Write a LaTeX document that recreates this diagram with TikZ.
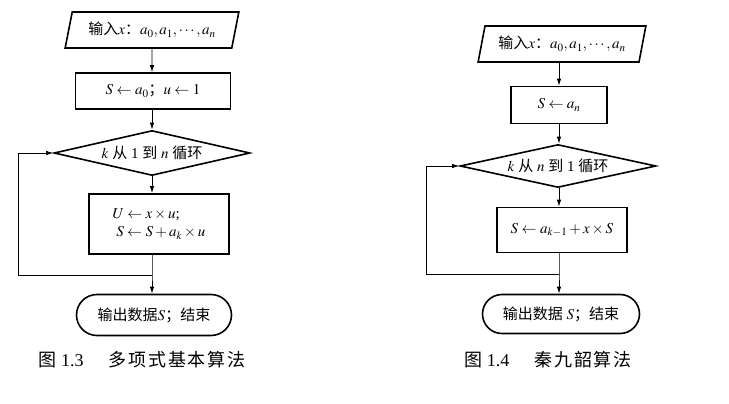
\documentclass[tikz,border=0pt]{standalone}
\usepackage{mathptmx}
\usepackage{fontspec}
\setmainfont{Liberation Serif}
\newfontfamily\cjk{Noto Sans CJK SC}
\newfontfamily\cjkcap{Noto Sans CJK SC}[LetterSpace=10]
\usetikzlibrary{shapes.geometric,shapes.misc,arrows.meta}
\tikzset{
  box/.style={draw,line width=1.6pt,inner sep=0pt},
  io/.style={box,trapezium,trapezium left angle=70,trapezium right angle=110,trapezium stretches=true,minimum height=36pt},
  loopbox/.style={box,diamond,aspect=4.4,minimum width=196pt},
  term/.style={box,rounded rectangle},
  flow/.style={->,line width=0.9pt},
  caption/.style={font=\fontsize{18}{20}\selectfont}
}
\begin{document}
\begin{tikzpicture}[x=1pt,y=-1pt,>={Latex[length=7pt,width=4.5pt]},font=\fontsize{15}{18}\selectfont]
  \useasboundingbox (0,0) rectangle (729,404);
  % 图 1.3
  \node[io,minimum width=174pt] (in1) at (152,30) {{\cjk 输入}$x${\cjk ：}$a_0, a_1,\cdots, a_n$};
  \node[box,minimum width=155pt,minimum height=36pt] (init1) at (153,91) {$S\leftarrow a_0${\cjk ；}$u\leftarrow 1$};
  \node[loopbox,minimum height=45pt] (loop1) at (152,153) {$k$ {\cjk 从} 1 {\cjk 到} $n$ {\cjk 循环}};
  \node[box,minimum width=140pt,minimum height=60pt,align=left] (body1) at (159,224) {$U\leftarrow x\times u$;\\ \ $S\leftarrow S+a_k\times u$};
  \node[term,minimum width=155pt,minimum height=41pt] (out1) at (154,315) {{\cjk 输出数据}$S${\cjk ；结束}};
  \coordinate (join1) at (152,275);
  \coordinate (back1) at (18,275);
  \draw[flow] (in1) -- (in1 |- init1.north);
  \draw[flow] (init1.south -| loop1) -- (loop1);
  \draw[flow] (loop1) -- (loop1 |- body1.north);
  \draw[flow] (join1 |- body1.south) -- (join1) -- (join1 |- out1.north);
  \draw[flow] (join1) -- (back1) |- (loop1.west);
  \node[caption] (cap1) at (142,360) {{\cjkcap 图} 1.3\hspace{1.4em}{\cjkcap 多项式基本算法}};
  % 图 1.4
  \node[io,minimum width=168pt] (in2) at (562,44) {{\cjk 输入}$x${\cjk ：}$a_0, a_1,\cdots, a_n$};
  \node[box,minimum width=96pt,minimum height=37pt] (init2) at (559,105) {$S\leftarrow a_n$};
  \node[loopbox,minimum height=43pt] (loop2) at (558,166) {$k$ {\cjk 从} $n$ {\cjk 到} 1 {\cjk 循环}};
  \node[box,minimum width=130pt,minimum height=45pt] (body2) at (562,230) {$S\leftarrow a_{k-1}+x\times S$};
  \node[term,minimum width=157pt,minimum height=39pt] (out2) at (561,314) {{\cjk 输出数据} $S${\cjk ；结束}};
  \coordinate (join2) at (559,274);
  \coordinate (back2) at (426,274);
  \draw[flow] (join2 |- in2.south) -- (join2 |- init2.north);
  \draw[flow] (join2 |- init2.south) -- (join2 |- loop2.north);
  \draw[flow] (join2 |- loop2.south) -- (join2 |- body2.north);
  \draw[flow] (join2 |- body2.south) -- (join2) -- (join2 |- out2.north);
  \draw[flow] (join2) -- (back2) |- (loop2.west);
  \node[caption] (cap2) at (548,360) {{\cjkcap 图} 1.4\hspace{1.4em}{\cjkcap 秦九韶算法}};
\end{tikzpicture}
\end{document}
